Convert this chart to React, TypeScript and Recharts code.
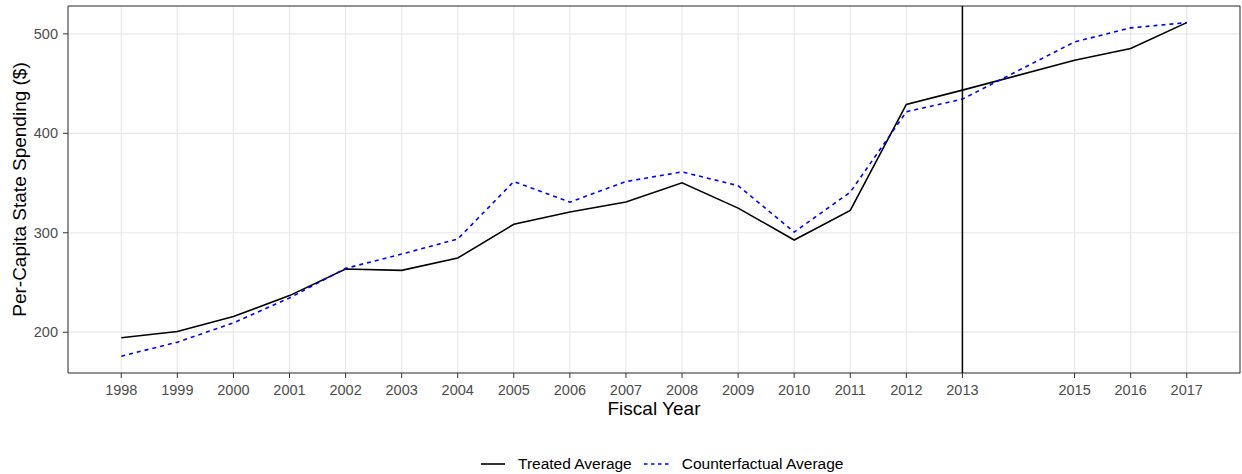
import React from "react";
import {
  CartesianGrid,
  Legend,
  Line,
  LineChart,
  ReferenceArea,
  ReferenceLine,
  XAxis,
  YAxis,
} from "recharts";

const years = [
  1998, 1999, 2000, 2001, 2002, 2003, 2004, 2005, 2006, 2007, 2008, 2009,
  2010, 2011, 2012, 2013, 2015, 2016, 2017,
];
const treated = [
  194.4, 200.7, 215.7, 236.8, 263.6, 262.2, 274.6, 308.5, 320.8, 331, 350.2,
  324.8, 292.7, 322.4, 429.1, 443.4, 473.5, 485.3, 511.3,
];
const counterfactual = [
  175.9, 190, 209.4, 234.5, 264.2, 278.6, 293.7, 351.5, 330.8, 351.5, 361.2,
  347.4, 300.7, 340.8, 421.7, 434.4, 491.9, 506, 511.3,
];
const yTicks = [200, 300, 400, 500];
const treatmentYear = 2013;

const data = years.map((year, i) => ({
  year,
  treated: treated[i],
  counterfactual: counterfactual[i],
}));

const X_DOMAIN: [number, number] = [1997.05, 2017.95];
const Y_DOMAIN: [number, number] = [159, 528];
const FONT = "'Liberation Sans', Arial, Helvetica, sans-serif";

// legend sits centred on the panel, like ggplot does
const LegendContent = () => (
  <div
    style={{
      height: 24,
      display: "flex",
      alignItems: "center",
      paddingLeft: 481,
      transform: "translateY(2px)",
      fontFamily: FONT,
      fontSize: 15.5,
      color: "#000",
    }}
  >
    <svg width={24} height={10} style={{ marginRight: 13 }}>
      <line x1={0} y1={5} x2={24} y2={5} stroke="#000" strokeWidth={1.6} />
    </svg>
    <span style={{ marginRight: 12 }}>Treated Average</span>
    <svg width={25} height={10} style={{ marginRight: 13 }}>
      <line
        x1={0}
        y1={5}
        x2={25}
        y2={5}
        stroke="#0000ff"
        strokeWidth={1.6}
        strokeDasharray="3.5 3.5"
      />
    </svg>
    <span>Counterfactual Average</span>
  </div>
);

export default function App() {
  return (
    <div style={{ position: "absolute", left: 0, top: 0, background: "#fff" }}>
      <LineChart
        width={1242}
        height={474}
        data={data}
        margin={{ top: 6, right: 2, left: 0, bottom: 0 }}
        style={{ fontFamily: FONT }}
      >
        <CartesianGrid stroke="#e8e8e8" strokeWidth={1.2} />
        <XAxis
          dataKey="year"
          type="number"
          domain={X_DOMAIN}
          ticks={years}
          interval={0}
          allowDataOverflow
          height={77}
          axisLine={false}
          tickLine={{ stroke: "#333333" }}
          tickSize={5}
          tickMargin={7}
          tick={{ fill: "#4d4d4d", fontSize: 14.5 }}
          label={{
            value: "Fiscal Year",
            position: "center",
            dy: -3,
            style: { fill: "#000", fontSize: 19 },
          }}
        />
        <YAxis
          type="number"
          domain={Y_DOMAIN}
          ticks={yTicks}
          allowDataOverflow
          width={68}
          axisLine={false}
          tickLine={{ stroke: "#333333" }}
          tickSize={5}
          tickMargin={5}
          tick={{ fill: "#4d4d4d", fontSize: 14.5 }}
          label={{
            value: "Per-Capita State Spending ($)",
            angle: -90,
            position: "center",
            dx: -15,
            style: { fill: "#000", fontSize: 19, textAnchor: "middle" },
          }}
        />
        <ReferenceArea
          x1={X_DOMAIN[0]}
          x2={X_DOMAIN[1]}
          y1={Y_DOMAIN[0]}
          y2={Y_DOMAIN[1]}
          fill="none"
          stroke="#333333"
          strokeWidth={1}
        />
        <ReferenceLine x={treatmentYear} stroke="#000" strokeWidth={1.5} />
        <Line
          dataKey="treated"
          stroke="#000"
          strokeWidth={1.6}
          dot={false}
          isAnimationActive={false}
        />
        <Line
          dataKey="counterfactual"
          stroke="#0000ff"
          strokeWidth={1.6}
          strokeDasharray="4 4"
          dot={false}
          isAnimationActive={false}
        />
        <Legend verticalAlign="bottom" align="center" content={<LegendContent />} />
      </LineChart>
    </div>
  );
}
